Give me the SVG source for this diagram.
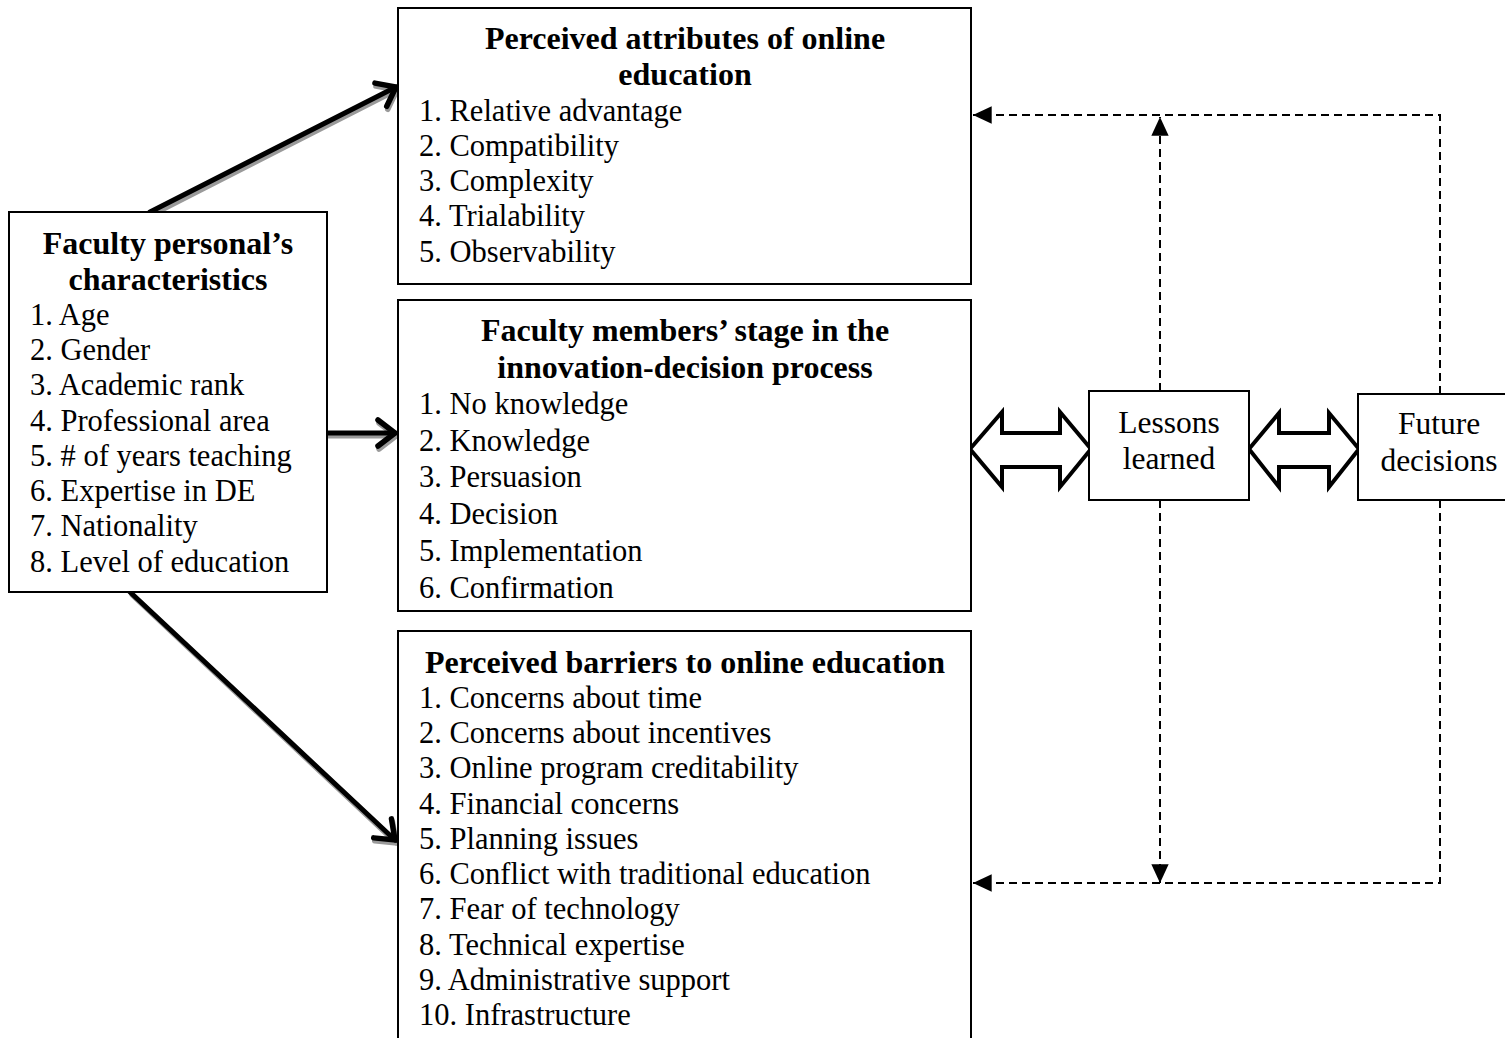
<svg xmlns="http://www.w3.org/2000/svg" width="1505" height="1038" viewBox="0 0 1505 1038">
<style>
.box{fill:#fff;stroke:#000;stroke-width:2}
.t{font-family:"Liberation Serif","Times New Roman",serif;font-size:30.5px;fill:#000}
.b{font-weight:bold;text-anchor:middle;font-size:32px}
.c{text-anchor:middle;font-size:31.5px}
.sh{stroke:#9a9a9a;stroke-width:5;fill:none;stroke-linecap:round}
.ar{stroke:#000;stroke-width:5;fill:none;stroke-linecap:round}
.dash{stroke:#000;stroke-width:2;fill:none;stroke-dasharray:8 5}
.dbl{fill:#fff;stroke:#000;stroke-width:4;stroke-linejoin:miter}
</style>
<defs>
<marker id="chev" markerUnits="userSpaceOnUse" markerWidth="40" markerHeight="40" viewBox="-25 -20 30 40" refX="0" refY="0" orient="auto">
<path d="M-17,-13 L0,0 L-17,13" fill="none" stroke="#000" stroke-width="5.5" stroke-linecap="round" stroke-linejoin="miter"/>
</marker>
<marker id="chevs" markerUnits="userSpaceOnUse" markerWidth="40" markerHeight="40" viewBox="-25 -20 30 40" refX="0" refY="0" orient="auto">
<path d="M-17,-13 L0,0 L-17,13" fill="none" stroke="#9a9a9a" stroke-width="5.5" stroke-linecap="round"/>
</marker>
<marker id="tri" markerUnits="userSpaceOnUse" markerWidth="20" markerHeight="20" viewBox="-14 -7 15 14" refX="0" refY="0" orient="auto">
<path d="M-14,-6.5 L0,0 L-14,6.5 z" fill="#000"/>
</marker>
</defs>

<g id="connectors">
<line class="sh" x1="152" y1="215" x2="397" y2="90" marker-end="url(#chevs)"/>
<line class="sh" x1="327" y1="436" x2="396" y2="436" marker-end="url(#chevs)"/>
<line class="sh" x1="132" y1="595" x2="396" y2="843" marker-end="url(#chevs)"/>
<line class="ar" x1="150" y1="212" x2="396" y2="87" marker-end="url(#chev)"/>
<line class="ar" x1="327" y1="433" x2="395" y2="433" marker-end="url(#chev)"/>
<line class="ar" x1="130" y1="592" x2="395" y2="840" marker-end="url(#chev)"/>
<polygon class="dbl" points="970,449 1002,412 1002,433 1060,433 1060,412 1091,449 1060,487 1060,467 1002,467 1002,487"/>
<polygon class="dbl" points="1249,449 1279,413 1279,433 1329,433 1329,413 1359,449 1329,487 1329,467 1279,467 1279,487"/>
<path class="dash" d="M1440,394 V115 H973" marker-end="url(#tri)"/>
<path class="dash" d="M1160,391 V117" marker-end="url(#tri)"/>
<path class="dash" d="M1440,500 V883 H973" marker-end="url(#tri)"/>
<path class="dash" d="M1160,500 V883" marker-end="url(#tri)"/>
</g>

<g id="faculty-characteristics">
<rect class="box" x="9" y="212" width="318" height="380"/>
<text class="t b" x="168" y="254">Faculty personal’s</text>
<text class="t b" x="168" y="290">characteristics</text>
<text class="t" x="30" y="325">1. Age</text>
<text class="t" x="30" y="360">2. Gender</text>
<text class="t" x="30" y="395">3. Academic rank</text>
<text class="t" x="30" y="431">4. Professional area</text>
<text class="t" x="30" y="466">5. # of years teaching</text>
<text class="t" x="30" y="501">6. Expertise in DE</text>
<text class="t" x="30" y="536">7. Nationality</text>
<text class="t" x="30" y="572">8. Level of education</text>
</g>

<g id="perceived-attributes">
<rect class="box" x="398" y="8" width="573" height="276"/>
<text class="t b" x="685" y="49">Perceived attributes of online</text>
<text class="t b" x="685" y="85">education</text>
<text class="t" x="419" y="121">1. Relative advantage</text>
<text class="t" x="419" y="156">2. Compatibility</text>
<text class="t" x="419" y="191">3. Complexity</text>
<text class="t" x="419" y="226">4. Trialability</text>
<text class="t" x="419" y="262">5. Observability</text>
</g>

<g id="innovation-stage">
<rect class="box" x="398" y="300" width="573" height="311"/>
<text class="t b" x="685" y="341">Faculty members’ stage in the</text>
<text class="t b" x="685" y="378">innovation-decision process</text>
<text class="t" x="419" y="414">1. No knowledge</text>
<text class="t" x="419" y="451">2. Knowledge</text>
<text class="t" x="419" y="487">3. Persuasion</text>
<text class="t" x="419" y="524">4. Decision</text>
<text class="t" x="419" y="561">5. Implementation</text>
<text class="t" x="419" y="598">6. Confirmation</text>
</g>

<g id="perceived-barriers">
<rect class="box" x="398" y="631" width="573" height="420"/>
<text class="t b" x="685" y="673">Perceived barriers to online education</text>
<text class="t" x="419" y="708">1. Concerns about time</text>
<text class="t" x="419" y="743">2. Concerns about incentives</text>
<text class="t" x="419" y="778">3. Online program creditability</text>
<text class="t" x="419" y="814">4. Financial concerns</text>
<text class="t" x="419" y="849">5. Planning issues</text>
<text class="t" x="419" y="884">6. Conflict with traditional education</text>
<text class="t" x="419" y="919">7. Fear of technology</text>
<text class="t" x="419" y="955">8. Technical expertise</text>
<text class="t" x="419" y="990">9. Administrative support</text>
<text class="t" x="419" y="1025">10. Infrastructure</text>
</g>

<g id="lessons-learned">
<rect class="box" x="1089" y="391" width="160" height="109"/>
<text class="t c" x="1169" y="433">Lessons</text>
<text class="t c" x="1169" y="469">learned</text>
</g>

<g id="future-decisions">
<rect class="box" x="1358" y="394" width="170" height="106"/>
<text class="t c" x="1439" y="434">Future</text>
<text class="t c" x="1439" y="471">decisions</text>
</g>
</svg>
